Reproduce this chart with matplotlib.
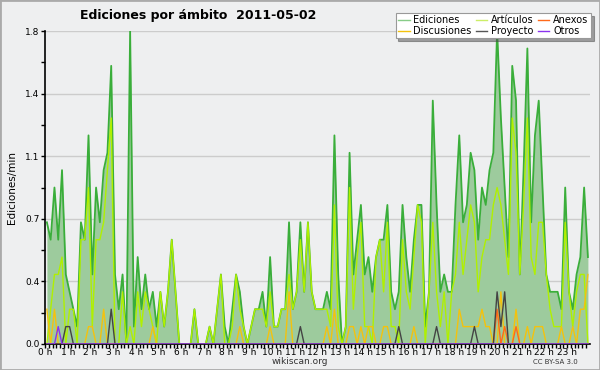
import numpy as np
import matplotlib
matplotlib.use("Agg")
import matplotlib.pyplot as plt
from matplotlib.lines import Line2D
from matplotlib.patches import Rectangle

# Datos: ediciones/min cada 10 minutos (144 intervalos)
ediciones = [
    0.7, 0.6, 0.9, 0.6, 1.0, 0.4, 0.3, 0.2, 0.1, 0.7, 0.6, 1.2,
    0.4, 0.9, 0.7, 1.0, 1.1, 1.6, 0.4, 0.2, 0.4, 0.0, 1.8, 0.1,
    0.5, 0.2, 0.4, 0.2, 0.3, 0.1, 0.3, 0.1, 0.3, 0.6, 0.3, 0.0,
    0.0, 0.0, 0.0, 0.2, 0.0, 0.0, 0.0, 0.1, 0.0, 0.2, 0.4, 0.1,
    0.0, 0.2, 0.4, 0.3, 0.1, 0.0, 0.1, 0.2, 0.2, 0.3, 0.1, 0.5,
    0.1, 0.1, 0.2, 0.2, 0.7, 0.2, 0.3, 0.7, 0.3, 0.7, 0.3, 0.2,
    0.2, 0.2, 0.3, 0.2, 1.2, 0.4, 0.0, 0.1, 1.1, 0.4, 0.6, 0.8,
    0.4, 0.5, 0.3, 0.5, 0.6, 0.6, 0.8, 0.3, 0.2, 0.3, 0.8, 0.5,
    0.3, 0.6, 0.8, 0.8, 0.1, 0.3, 1.4, 0.8, 0.3, 0.4, 0.3, 0.3,
    0.8, 1.2, 0.7, 0.8, 1.1, 1.0, 0.6, 0.9, 0.8, 1.0, 1.1, 1.8,
    1.3, 0.9, 0.5, 1.6, 1.4, 0.4, 1.0, 1.7, 0.7, 1.2, 1.4, 0.9,
    0.4, 0.3, 0.3, 0.3, 0.2, 0.9, 0.3, 0.2, 0.4, 0.5, 0.9, 0.5,
]
articulos = [
    0.0, 0.2, 0.4, 0.4, 0.5, 0.0, 0.2, 0.2, 0.0, 0.6, 0.6, 0.9,
    0.1, 0.6, 0.6, 0.7, 1.0, 1.3, 0.0, 0.0, 0.3, 0.0, 0.1, 0.0,
    0.3, 0.1, 0.3, 0.2, 0.1, 0.0, 0.3, 0.1, 0.3, 0.6, 0.3, 0.0,
    0.0, 0.0, 0.0, 0.2, 0.0, 0.0, 0.0, 0.1, 0.0, 0.2, 0.4, 0.0,
    0.0, 0.1, 0.4, 0.2, 0.1, 0.0, 0.1, 0.2, 0.2, 0.2, 0.1, 0.3,
    0.1, 0.1, 0.2, 0.2, 0.4, 0.2, 0.3, 0.6, 0.3, 0.7, 0.3, 0.2,
    0.2, 0.2, 0.2, 0.1, 0.8, 0.1, 0.0, 0.1, 0.9, 0.2, 0.5, 0.7,
    0.1, 0.1, 0.0, 0.5, 0.6, 0.3, 0.7, 0.1, 0.1, 0.0, 0.6, 0.3,
    0.2, 0.5, 0.8, 0.7, 0.0, 0.3, 0.7, 0.3, 0.1, 0.3, 0.0, 0.3,
    0.4, 0.7, 0.4, 0.6, 0.8, 0.7, 0.3, 0.5, 0.6, 0.6, 0.8, 0.9,
    0.8, 0.6, 0.4, 1.3, 1.1, 0.4, 0.8, 1.3, 0.5, 0.4, 0.7, 0.7,
    0.4, 0.2, 0.1, 0.1, 0.1, 0.7, 0.3, 0.1, 0.3, 0.4, 0.4, 0.0,
]
discusiones = [
    0.2, 0.0, 0.2, 0.0, 0.0, 0.0, 0.0, 0.0, 0.0, 0.0, 0.0, 0.1,
    0.1, 0.0, 0.0, 0.2, 0.0, 0.0, 0.0, 0.0, 0.0, 0.0, 0.0, 0.0,
    0.0, 0.0, 0.0, 0.0, 0.1, 0.0, 0.0, 0.0, 0.0, 0.0, 0.0, 0.0,
    0.0, 0.0, 0.0, 0.0, 0.0, 0.0, 0.0, 0.0, 0.0, 0.0, 0.0, 0.0,
    0.0, 0.0, 0.0, 0.1, 0.0, 0.0, 0.0, 0.0, 0.0, 0.0, 0.0, 0.1,
    0.0, 0.0, 0.0, 0.0, 0.3, 0.0, 0.0, 0.0, 0.0, 0.0, 0.0, 0.0,
    0.0, 0.0, 0.1, 0.0, 0.2, 0.0, 0.0, 0.0, 0.1, 0.1, 0.0, 0.1,
    0.0, 0.1, 0.1, 0.0, 0.0, 0.1, 0.1, 0.0, 0.0, 0.0, 0.0, 0.0,
    0.0, 0.1, 0.0, 0.0, 0.0, 0.0, 0.0, 0.0, 0.0, 0.0, 0.0, 0.0,
    0.0, 0.2, 0.1, 0.1, 0.1, 0.1, 0.1, 0.2, 0.1, 0.1, 0.0, 0.0,
    0.3, 0.0, 0.0, 0.0, 0.2, 0.0, 0.0, 0.1, 0.0, 0.1, 0.1, 0.1,
    0.0, 0.0, 0.0, 0.0, 0.1, 0.0, 0.0, 0.1, 0.0, 0.2, 0.2, 0.4,
]
anexos = [0.0] * 144
anexos[119] = 0.2
anexos[121] = 0.1
anexos[124] = 0.1
proyecto = [0.0] * 144
for k, v in [(5, 0.1), (6, 0.1), (17, 0.2), (67, 0.1), (93, 0.1), (103, 0.1),
             (113, 0.1), (119, 0.3), (120, 0.1), (121, 0.3)]:
    proyecto[k] = v
otros = [0.0] * 144
otros[3] = 0.1

horas = (np.arange(144) + 0.5) / 6.0
etiquetas_y = ["0.0", "0.4", "0.7", "1.1", "1.4", "1.8"]

bg = "#eeeff0"
fig = plt.figure(figsize=(6, 3.7), dpi=100, facecolor=bg)
ax = fig.add_axes([0.075, 0.0703, 0.908, 0.8457], facecolor=bg)

# Area y lineas
ax.fill_between(horas, ediciones, 0, color="#9dcb9d", lw=0, zorder=2)
ax.plot(horas, ediciones, color="#3aae3a", lw=1.3, zorder=3)
ax.plot(horas, articulos, color="#b0f000", lw=1.0, zorder=4)
ax.plot(horas, discusiones, color="#f4c20d", lw=1.0, zorder=5)
ax.plot(horas, anexos, color="#ff6a1a", lw=1.0, zorder=6)
ax.plot(horas, proyecto, color="#444444", lw=1.0, zorder=6)
ax.plot(horas, otros, color="#8a33ee", lw=1.0, zorder=7)

ax.set_xlim(0, 24)
ax.set_ylim(0, 1.8)
ax.set_xticks(np.arange(24))
ax.set_xticklabels([f"{h} h" for h in range(24)], fontsize=6.5)
ax.set_xticks(np.arange(0, 24, 1 / 6), minor=True)
ax.set_yticks(np.linspace(0, 1.8, 6))
ax.set_yticklabels(etiquetas_y, fontsize=6.5)
ax.set_yticks(np.linspace(0, 1.8, 11), minor=True)
ax.tick_params(axis="both", which="both", direction="out", length=3, width=1,
               color="black")
ax.tick_params(axis="x", which="major", pad=0)
ax.tick_params(axis="y", which="major", pad=1)
ax.yaxis.grid(True, color="#cccccc", lw=1)
ax.set_axisbelow(True)
for s in ["top", "right"]:
    ax.spines[s].set_visible(False)
ax.spines["left"].set_linewidth(1.2)
ax.spines["bottom"].set_linewidth(1.2)
ax.set_ylabel("Ediciones/min", fontsize=7.5, labelpad=6)

fig.text(0.33, 0.957, "Ediciones por ámbito  2011-05-02", fontsize=9,
         fontweight="bold", ha="center", va="center")
fig.text(0.5, 0.022, "wikiscan.org", fontsize=6.5, ha="center", va="center",
         color="#333333")
fig.text(0.925, 0.022, "CC BY-SA 3.0", fontsize=5, ha="center", va="center",
         color="#333333")

# Leyenda
handles = [
    Line2D([], [], color="#88cc88", lw=1),
    Line2D([], [], color="#f4c20d", lw=1),
    Line2D([], [], color="#ccee66", lw=1),
    Line2D([], [], color="#555555", lw=1),
    Line2D([], [], color="#ff6a1a", lw=1),
    Line2D([], [], color="#8a33ee", lw=1),
]
labels = ["Ediciones", "Discusiones", "Artículos", "Proyecto", "Anexos", "Otros"]
leg = fig.legend(handles, labels, ncol=3, fontsize=7, loc="upper right",
                 bbox_to_anchor=(0.993, 0.978), frameon=True, fancybox=False,
                 shadow=True, handlelength=1.2, handletextpad=0.4,
                 columnspacing=0.4, labelspacing=0.05, borderpad=0.25)
leg.get_frame().set_edgecolor("#999999")
leg.get_frame().set_facecolor("white")
leg.get_frame().set_linewidth(0.8)

fig.patches.append(Rectangle((0, 0), 1, 1, transform=fig.transFigure,
                             fill=False, edgecolor="#aaaaaa", lw=2))

fig.savefig("out.png", dpi=100, facecolor=bg)
